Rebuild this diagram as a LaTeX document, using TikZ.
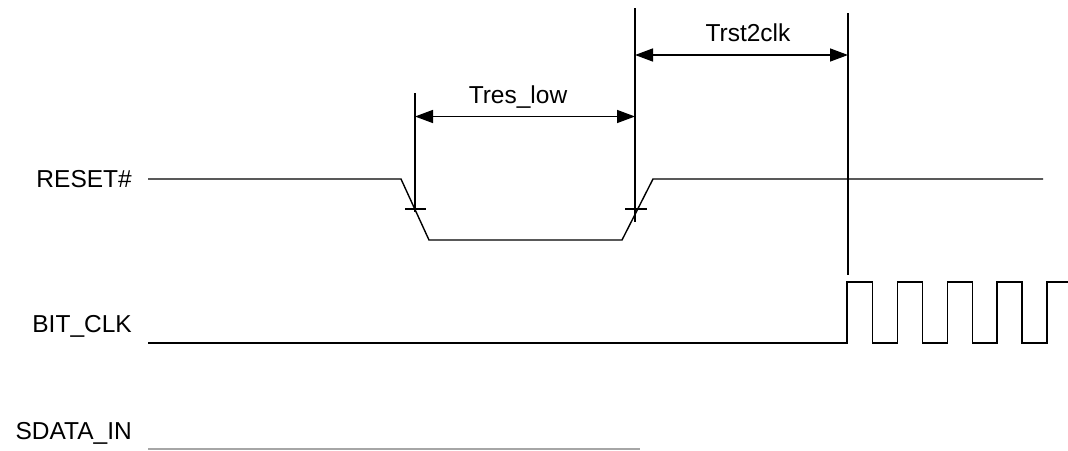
\documentclass[tikz,border=0pt]{standalone}
\usepackage{fontspec}
\setmainfont{Liberation Sans}
\usetikzlibrary{arrows.meta}
\begin{document}
\begin{tikzpicture}[x=1pt,y=-1pt,
  sig/.style={line width=1.4pt,line join=miter},
  guide/.style={line width=1.4pt},
  dim/.style={line width=1.4pt,{Triangle[length=18pt,width=13pt]}-{Triangle[length=18pt,width=13pt]}},
  lbl/.style={font=\fontsize{24.5}{29}\selectfont,inner sep=0pt},
  siglbl/.style={lbl,anchor=base east}]
\useasboundingbox (0,0) rectangle (1068,450);
\fill[white] (0,0) rectangle (1068,450);
% signal names
\node[siglbl] (nreset) at (132,187) {RESET\#};
\node[siglbl] (nclk) at (132,332) {BIT\_CLK};
\node[siglbl] (nsdata) at (132,439) {SDATA\_IN};
% RESET# waveform
\coordinate (r0) at (148,179);
\coordinate (r1) at (401,179);
\coordinate (r2) at (429,240);
\coordinate (r3) at (622,240);
\coordinate (r4) at (653,179);
\coordinate (r5) at (1043,179);
\draw[sig] (r0) -- (r1) -- (r2) -- (r3) -- (r4) -- (r5);
% guide lines and ticks
\coordinate (ga0) at (415,93);
\coordinate (ga1) at (415,212);
\coordinate (gb0) at (635,8);
\coordinate (gb1) at (635,222);
\coordinate (gc0) at (848,13);
\coordinate (gc1) at (848,275);
\draw[guide] (ga0) -- (ga1);
\draw[guide] (gb0) -- (gb1);
\draw[guide] (gc0) -- (gc1);
\coordinate (ta0) at (405,209);
\coordinate (ta1) at (426,209);
\coordinate (tb0) at (625,209);
\coordinate (tb1) at (647,209);
\draw[guide] (ta0) -- (ta1);
\draw[guide] (tb0) -- (tb1);
% dimension arrows
\coordinate (da0) at (415,116.5);
\coordinate (da1) at (635,116.5);
\draw[dim] (da0) -- (da1);
\node[lbl] (tres) at (518,97) {Tres\_low};
\coordinate (db0) at (635,55);
\coordinate (db1) at (848,55);
\draw[dim] (db0) -- (db1);
\node[lbl] (trst) at (748,33) {Trst2clk};
% BIT_CLK waveform
\coordinate (c0) at (148,343);
\draw[sig] (c0) -- (847,343) -- (847,282)
  -- (872.5,282) -- (872.5,343) -- (897.5,343) -- (897.5,282)
  -- (922.5,282) -- (922.5,343) -- (947.5,343) -- (947.5,282)
  -- (972.5,282) -- (972.5,343) -- (997,343) -- (997,282)
  -- (1022,282) -- (1022,343) -- (1047,343) -- (1047,282) -- (1068,282);
% SDATA_IN
\coordinate (s0) at (148,449);
\coordinate (s1) at (640,449);
\draw[line width=1.2pt,black!35] (s0) -- (s1);
\end{tikzpicture}
\end{document}
